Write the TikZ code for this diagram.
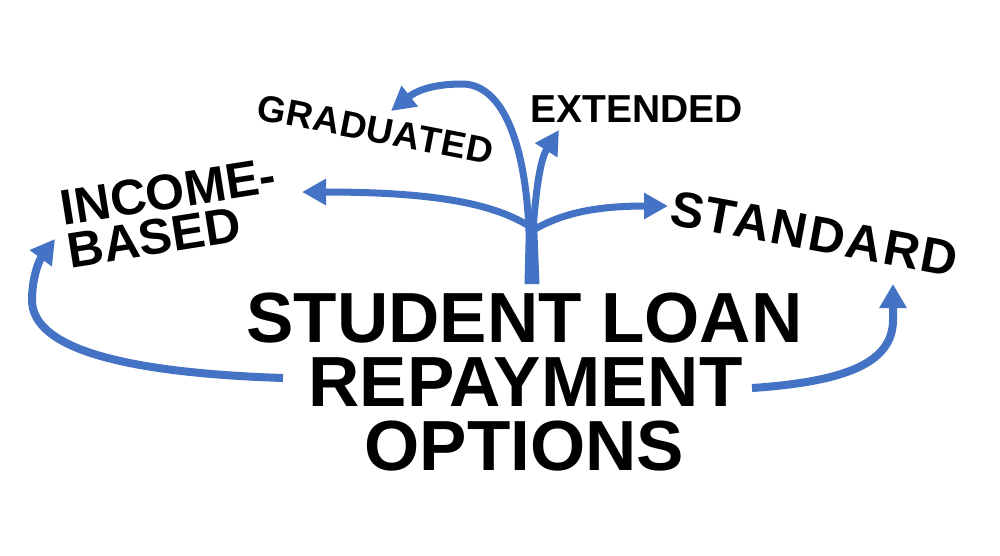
\documentclass[tikz,border=0pt]{standalone}
\usepackage{fontspec}
\setmainfont{Liberation Sans}
\usetikzlibrary{arrows.meta}
\definecolor{arrowblue}{HTML}{4472C4}
\tikzset{
  lbl/.style={inner sep=0pt, anchor=base west},
  ttl/.style={inner sep=0pt, anchor=base, font=\fontsize{71}{64}\selectfont\bfseries},
  conn/.style={draw=arrowblue, line width=7pt, -{Triangle[length=24pt,width=25pt]}},
  bigconn/.style={draw=arrowblue, line width=8pt, -{Triangle[length=24pt,width=26pt]}},
}
\begin{document}
\begin{tikzpicture}[x=1pt,y=-1pt]
\fill[white] (0,0) rectangle (1000,555);
\useasboundingbox (0,0) rectangle (1000,555);

% title
\node[ttl] (t1) at (524.5,342) {STUDENT LOAN};
\node[ttl] (t2) at (525.5,406) {REPAYMENT};
\node[ttl] (t3) at (524.5,470) {OPTIONS};

% labels
\node[lbl, rotate=-11, font=\fontsize{37}{37}\selectfont\bfseries\addfontfeatures{LetterSpace=2}] (graduated) at (255,119) {GRADUATED};
\node[lbl, font=\fontsize{39}{39}\selectfont\bfseries] (extended) at (530,122) {EXTENDED};
\node[lbl, rotate=-10.5, font=\fontsize{50}{50}\selectfont\bfseries\addfontfeatures{LetterSpace=4}] (standard) at (668,224) {STANDARD};
\node[inner sep=0pt, anchor=north west, align=left, rotate=9, font=\fontsize{50}{43}\selectfont\bfseries] (income) at (58,191) {INCOME-\\BASED};

% stem
\fill[arrowblue] (524.5,284) -- (539.5,284) -- (537,222) -- (526,222) -- cycle;

% branch ends
\coordinate (gradtip) at (391,111);
\coordinate (inctip) at (302,192);
\coordinate (exttip) at (559,130);
\coordinate (stdtip) at (668,206);

\draw[conn] (529,232) .. controls (526,150) and (505,84) .. (462,84)
            .. controls (440,84) and (420,88) .. (gradtip);
\draw[conn] (529,226) .. controls (495,205) and (440,192) .. (inctip);
\draw[conn] (533,230) .. controls (536,190) and (540,160) .. (exttip);
\draw[conn] (535,229) .. controls (565,212) and (600,206) .. (stdtip);

% big arrows from the title
\coordinate (lstart) at (283,378);
\coordinate (ltip) at (55,239);
\coordinate (rstart) at (752,388);
\coordinate (rtip) at (893,284);
\draw[bigconn] (lstart) .. controls (130,373) and (32,350) .. (32,300)
               .. controls (32,280) and (38,262) .. (ltip);
\draw[bigconn] (rstart) .. controls (840,382) and (893,365) .. (893,320) -- (rtip);
\end{tikzpicture}
\end{document}
